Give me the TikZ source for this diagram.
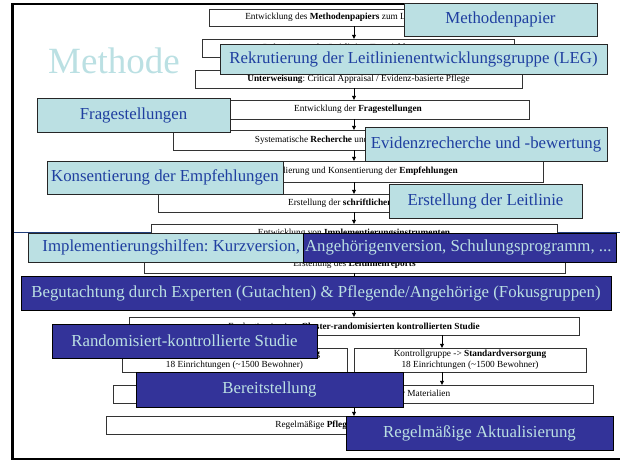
\documentclass[tikz,border=0pt]{standalone}
\usepackage{fontspec}
\setmainfont{Liberation Serif}
\usetikzlibrary{arrows.meta}
\definecolor{hellblau}{HTML}{BBE0E3}
\definecolor{dunkelblau}{HTML}{333399}
\definecolor{textblau}{HTML}{1F3FA0}
\definecolor{linienblau}{HTML}{1F3D7A}
\frenchspacing

\begin{document}
\begin{tikzpicture}[x=1pt,y=-1pt]
\tikzstyle{schritt}=[draw=black!80,fill=white,inner sep=0pt,font=\fontsize{9.3}{10.5}\selectfont]
\tikzstyle{hell}=[draw=black!85,line width=0.9pt,fill=hellblau,text=textblau,inner sep=0pt,font=\fontsize{16.8}{19}\selectfont]
\tikzstyle{dunkel}=[hell,draw=black,fill=dunkelblau,text=hellblau]
\tikzstyle{pfeil}=[-{Triangle[length=4pt,width=4pt]},black]
\useasboundingbox (0,0) rectangle (620,461);
% Rahmen
\draw[linienblau,line width=0.8pt] (12,232) -- (620,232);
\draw[line width=2pt] (597,4) -- (12,4);
\draw[line width=3pt] (12,3) -- (12,460);
\draw[line width=2pt] (12,459) -- (620,459);
\coordinate (achse) at (354,0);

% Ablauf
\node[schritt,minimum width=290,minimum height=17] (papier) at (354,17.5) {Entwicklung des \textbf{Methodenpapiers} zum Leitlinienprojekt};
\node[schritt,minimum width=312,minimum height=18] (rekrut) at (358,48) {Rekrutierung der \textbf{Leitlinien-Entwicklungsgruppe}};
\node[schritt,minimum width=327,minimum height=18] (unterweis) at (358.5,79) {\textbf{Unterweisung}: Critical Appraisal / Evidenz-basierte Pflege};
\node[schritt,minimum width=342,minimum height=19] (fragen) at (358,109.5) {Entwicklung der \textbf{Fragestellungen}};
\node[schritt,minimum width=370,minimum height=20] (recherche) at (358,140) {Systematische \textbf{Recherche} und \textbf{Bewertung} der Evidenz};
\node[schritt,minimum width=370,minimum height=21] (empf) at (358,171.5) {Formulierung und Konsentierung der \textbf{Empfehlungen}};
\node[schritt,minimum width=400,minimum height=18] (schrift) at (358,203) {Erstellung der \textbf{schriftlichen Leitlinie}};
\node[schritt,minimum width=406,minimum height=18] (instr) at (354,233) {Entwicklung von \textbf{Implementierungsinstrumenten}};
\node[schritt,minimum width=421,minimum height=18] (report) at (354.5,264) {Erstellung des \textbf{Leitlinienreports}};
\node[schritt,minimum width=450,minimum height=18] (evaluation) at (354,326) {Evaluation in einer \textbf{Cluster-randomisierten kontrollierten Studie}};
\node[schritt,minimum width=225,minimum height=24,align=center] (interv) at (234.5,360) {Interventionsgruppe -> \textbf{Leitlinienversorgung}\\18 Einrichtungen (\textasciitilde1500 Bewohner)};
\node[schritt,minimum width=232,minimum height=24,align=center] (kontrolle) at (470,360) {Kontrollgruppe -> \textbf{Standardversorgung}\\18 Einrichtungen (\textasciitilde1500 Bewohner)};
\node[schritt,minimum width=480,minimum height=18] (bereit) at (353,394) {Bereitstellung der Leitlinie und weiterer Materialien};
\node[schritt,minimum width=494,minimum height=18] (pflege) at (353,425) {Regelmäßige \textbf{Pflege und Aktualisierung}};

\foreach \a/\b in {papier/rekrut,rekrut/unterweis,unterweis/fragen,fragen/recherche,recherche/empf,empf/schrift,schrift/instr,instr/report,report/evaluation,bereit/pflege}
  \draw[pfeil] (\a.south -| achse) -- (\b.north -| achse);
\draw[pfeil] ([xshift=-28pt]kontrolle.north |- evaluation.south) -- ([xshift=-28pt]kontrolle.north);
\draw[pfeil] ([xshift=-28pt]kontrolle.south) -- ([xshift=-28pt]kontrolle.south |- bereit.north);
\draw[pfeil] ([xshift=32pt]interv.north |- evaluation.south) -- ([xshift=32pt]interv.north);
\draw[pfeil] ([xshift=32pt]interv.south) -- ([xshift=32pt]interv.south |- bereit.north);

% Hinweise
\node[text=hellblau,font=\fontsize{37}{40}\selectfont] (methode) at (114,61) {Methode};
\node[hell,minimum width=193,minimum height=33] (hpapier) at (500.5,19.5) {Methodenpapier};
\node[hell,minimum width=387,minimum height=30] (hrekrut) at (413.5,59) {Rekrutierung der Leitlinienentwicklungsgruppe (LEG)};
\node[hell,minimum width=193,minimum height=34] (hfragen) at (133.5,115) {Fragestellungen};
\node[hell,minimum width=242,minimum height=34] (hevidenz) at (486,144) {Evidenzrecherche und -bewertung};
\node[hell,minimum width=236,minimum height=33] (hkonsens) at (165,177.5) {Konsentierung der Empfehlungen};
\node[hell,minimum width=193,minimum height=34] (herstell) at (485.5,201) {Erstellung der Leitlinie};
\node[hell,minimum height=29] (himpl) at (165.5,247.5) {\makebox[275pt][r]{Implementierungshilfen: Kurzversion,\hspace{3pt}}};
\node[dunkel,minimum height=29] (hangeh) at (459.5,247.5) {\makebox[313pt][l]{\hspace{2pt}Angehörigenversion, Schulungsprogramm, ...}};
\node[dunkel,minimum width=590,minimum height=34] (hbegut) at (316,293) {Begutachtung durch Experten (Gutachten) \& Pflegende/Angehörige (Fokusgruppen)};
\node[dunkel,minimum width=265,minimum height=34] (hrct) at (184.5,341) {Randomisiert-kontrollierte Studie};
\node[dunkel,minimum width=267,minimum height=35] (hbereit) at (269.5,389.5) {Bereitstellung};
\node[dunkel,minimum width=267,minimum height=34] (haktual) at (479.5,433) {Regelmäßige Aktualisierung};
\end{tikzpicture}
\end{document}
